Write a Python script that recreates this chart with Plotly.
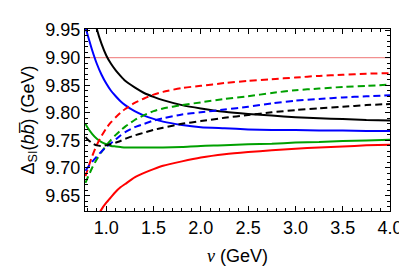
import plotly.graph_objects as go

nu = [0.78, 0.8, 0.85, 0.9, 0.95, 1.0, 1.05, 1.1, 1.15, 1.2, 1.3, 1.4, 1.5, 1.6,
      1.8, 2.0, 2.25, 2.5, 2.75, 3.0, 3.25, 3.5, 3.75, 4.0]

blue_solid = [9.955, 9.943, 9.914, 9.889, 9.869, 9.853, 9.840, 9.830, 9.821, 9.814, 9.803, 9.795,
              9.789, 9.784, 9.778, 9.774, 9.772, 9.770, 9.769, 9.769, 9.768, 9.768, 9.767, 9.767]
black_solid = [10.088, 10.053, 9.991, 9.952, 9.925, 9.904, 9.889, 9.877, 9.867, 9.858, 9.846, 9.836,
               9.829, 9.823, 9.814, 9.808, 9.802, 9.798, 9.795, 9.792, 9.790, 9.789, 9.787, 9.786]
red_dashed = [9.685, 9.696, 9.721, 9.742, 9.758, 9.772, 9.783, 9.792, 9.800, 9.807, 9.818, 9.826,
              9.833, 9.838, 9.845, 9.849, 9.854, 9.858, 9.861, 9.864, 9.867, 9.869, 9.871, 9.872]
green_dashed = [9.673, 9.681, 9.700, 9.716, 9.729, 9.741, 9.751, 9.760, 9.768, 9.775, 9.787, 9.796,
                9.803, 9.808, 9.814, 9.819, 9.825, 9.830, 9.836, 9.841, 9.844, 9.847, 9.849, 9.851]
blue_dashed = [9.695, 9.700, 9.711, 9.721, 9.730, 9.738, 9.745, 9.752, 9.759, 9.765, 9.774, 9.780,
               9.786, 9.790, 9.797, 9.801, 9.806, 9.811, 9.817, 9.822, 9.825, 9.828, 9.830, 9.832]
black_dashed = [9.756, 9.752, 9.745, 9.741, 9.740, 9.741, 9.743, 9.746, 9.749, 9.753, 9.759, 9.764,
                9.769, 9.773, 9.780, 9.785, 9.791, 9.796, 9.801, 9.805, 9.808, 9.811, 9.814, 9.816]
green_solid = [9.780, 9.774, 9.762, 9.753, 9.747, 9.743, 9.740, 9.739, 9.738, 9.737, 9.737, 9.737,
               9.737, 9.737, 9.738, 9.740, 9.741, 9.743, 9.744, 9.746, 9.747, 9.749, 9.750, 9.751]
red_solid = [None, 9.540, 9.583, 9.609, 9.625, 9.637, 9.647, 9.657, 9.665, 9.671, 9.683, 9.691,
             9.698, 9.704, 9.712, 9.719, 9.725, 9.729, 9.732, 9.735, 9.737, 9.739, 9.741, 9.742]

ref_x = [0.775, 4.0]
ref_y = [9.90, 9.90]

GREEN = "#00a000"

fig = go.Figure()
fig.add_trace(go.Scatter(x=ref_x, y=ref_y, mode="lines",
                         line=dict(color="#f29090", width=1.2)))

series = [
    (blue_solid, "#0000ff", "solid"),
    (black_solid, "#000000", "solid"),
    (green_solid, GREEN, "solid"),
    (red_solid, "#ff0000", "solid"),
    (red_dashed, "#ff0000", "7px,4px"),
    (green_dashed, GREEN, "7px,4px"),
    (blue_dashed, "#0000ff", "7px,4px"),
    (black_dashed, "#000000", "7px,4px"),
]
for ys, col, dash in series:
    fig.add_trace(go.Scatter(x=nu, y=ys, mode="lines",
                             line=dict(color=col, width=2, dash=dash, shape="spline", smoothing=0.6)))

axis_common = dict(
    showgrid=False, zeroline=False, showline=True, linecolor="black", linewidth=1,
    mirror="ticks", ticks="inside", ticklen=5, tickcolor="black", tickwidth=1,
)

fig.update_layout(
    width=407, height=266,
    margin=dict(l=77, r=15, t=13, b=60),
    plot_bgcolor="white", paper_bgcolor="white",
    showlegend=False,
    font=dict(family="Liberation Sans, Arial, sans-serif", size=18, color="black"),
    xaxis=dict(range=[0.775, 4.0], dtick=0.5, tick0=1.0, tickformat=".1f",
               minor=dict(dtick=0.1, ticks="inside", ticklen=3, tickcolor="black"),
               title=dict(text='<span style="font-family:Liberation Serif"><i>ν</i></span> (GeV)',
                          standoff=12, font=dict(size=18)),
               **axis_common),
    yaxis=dict(range=[9.622, 9.952], dtick=0.05, tick0=9.65, tickformat=".2f",
               minor=dict(dtick=0.01, ticks="inside", ticklen=3, tickcolor="black"),
               title=dict(text="Δ<sub>SI</sub>(<i>b</i><i>b\u0305</i>) (GeV)",
                          standoff=6, font=dict(size=18)),
               **axis_common),
)

fig.write_html("out.html")
